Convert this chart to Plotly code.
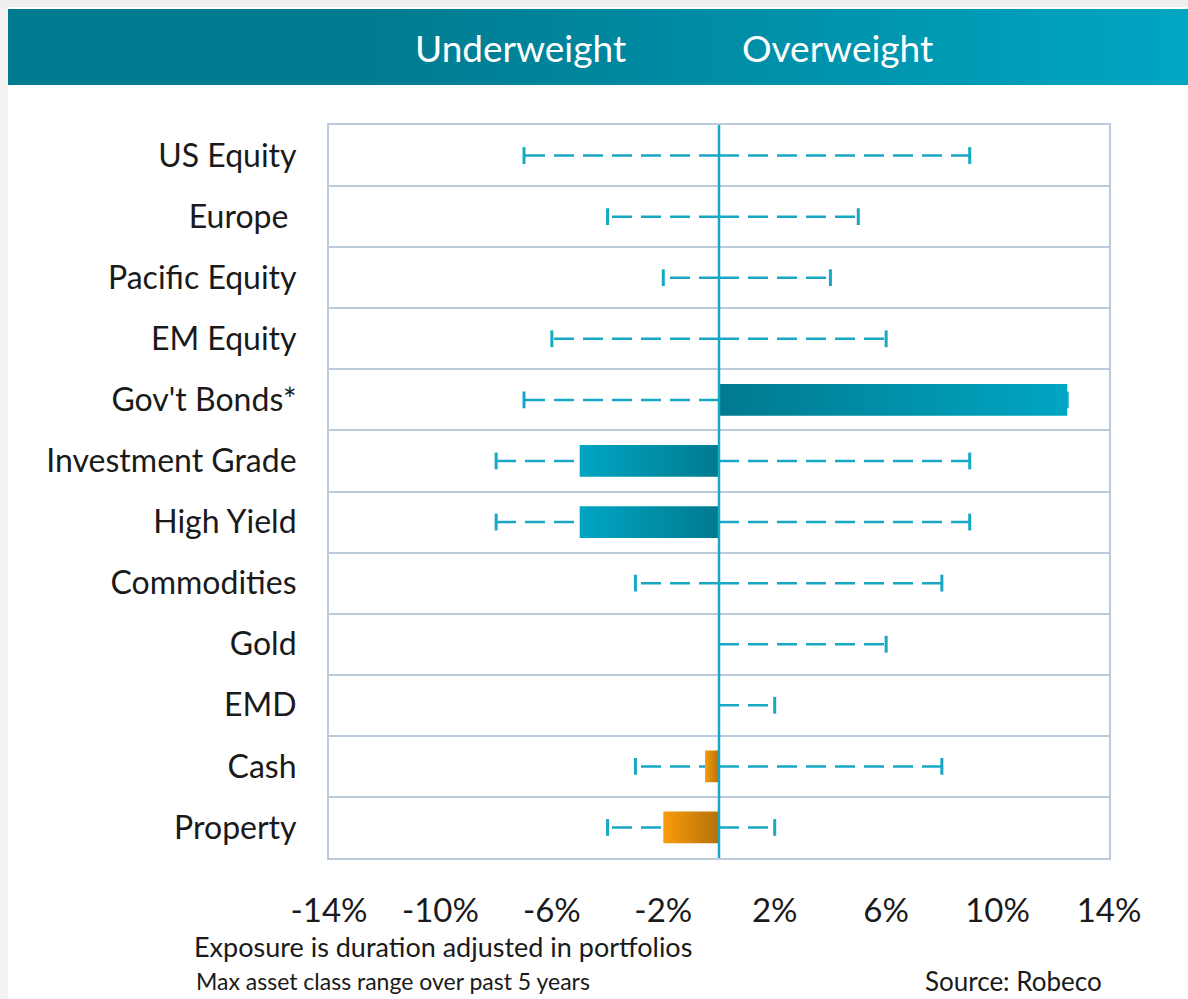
import plotly.graph_objects as go

W, H = 1188, 999

categories = ["US Equity", "Europe\u00a0", "Pacific Equity", "EM Equity", "Gov't Bonds*",
              "Investment Grade", "High Yield", "Commodities", "Gold", "EMD", "Cash", "Property"]
range_min = [-7, -4, -2, -6, -7, -8, -8, -3, 0, 0, -3, -4]
range_max = [9, 5, 4, 6, 12.5, 9, 9, 8, 6, 2, 8, 2]
position = [0, 0, 0, 0, 12.5, -5, -5, 0, 0, 0, -0.5, -2]
bar_group = ["teal"] * 10 + ["orange"] * 2
x_ticks = [-14, -10, -6, -2, 2, 6, 10, 14]
x_tick_labels = ["-14%", "-10%", "-6%", "-2%", "2%", "6%", "10%", "14%"]

TEAL_DARK = "#007a8f"
TEAL_LIGHT = "#00a6c3"
OR_LIGHT = "#f89c0b"
OR_DARK = "#b5710a"
LINE_C = "#17a8c4"
GRID_C = "#bccbdb"
FONT = "Lato"
TXT = "#1a1a1a"

def px_x(p):
    return p / W

def px_y(p):
    return 1 - p / H

fig = go.Figure()

# header band with gradient (own axes)
fig.add_trace(go.Scatter(
    x=[0, 1, 1, 0, 0], y=[0, 0, 1, 1, 0], xaxis="x2", yaxis="y2",
    mode="lines", line=dict(width=0), fill="toself",
    fillgradient=dict(type="horizontal",
                      colorscale=[[0, TEAL_DARK], [0.3, TEAL_DARK], [1, TEAL_LIGHT]]),
    hoverinfo="skip", showlegend=False))

ys = list(range(len(categories)))

# range lines (dashed, from zero outward)
for i, (lo, hi) in enumerate(zip(range_min, range_max)):
    for end in (lo, hi):
        if end != 0:
            fig.add_trace(go.Scatter(
                x=[0, end], y=[i, i], mode="lines",
                line=dict(color=LINE_C, width=2.5, dash="20px,9px"),
                hoverinfo="skip", showlegend=False))
# caps
cap_x, cap_y = [], []
for i, (lo, hi) in enumerate(zip(range_min, range_max)):
    for end in (lo, hi):
        if end != 0:
            cap_x.append(end)
            cap_y.append(i)
fig.add_trace(go.Scatter(
    x=cap_x, y=cap_y, mode="markers",
    marker=dict(symbol="line-ns", size=12, line=dict(color=LINE_C, width=3)),
    hoverinfo="skip", showlegend=False))

# bars as gradient-filled polygons
half = 0.26
for i, (pos, grp) in enumerate(zip(position, bar_group)):
    if pos == 0:
        continue
    x0, x1 = min(0, pos), max(0, pos)
    if grp == "teal":
        c_zero, c_far = TEAL_DARK, TEAL_LIGHT
    else:
        c_zero, c_far = OR_DARK, OR_LIGHT
    if pos > 0:
        cs = [[0, c_zero], [1, c_far]]
    else:
        cs = [[0, c_far], [1, c_zero]]
    fig.add_trace(go.Scatter(
        x=[x0, x1, x1, x0, x0], y=[i - half, i - half, i + half, i + half, i - half],
        mode="lines", line=dict(width=0), fill="toself",
        fillgradient=dict(type="horizontal", colorscale=cs),
        hoverinfo="skip", showlegend=False))

plot_l, plot_r, plot_t, plot_b = 329, 1109, 125, 858

fig.update_layout(
    width=W, height=H, autosize=False,
    margin=dict(l=0, r=0, t=0, b=0, autoexpand=False),
    paper_bgcolor="white", plot_bgcolor="white",
    font=dict(family=FONT, color=TXT),
    xaxis=dict(domain=[px_x(plot_l), px_x(plot_r)], range=[-14, 14], automargin=False,
               tickvals=x_ticks, ticktext=x_tick_labels,
               tickfont=dict(size=33, family=FONT, color=TXT),
               ticks="outside", ticklen=22, tickcolor="rgba(0,0,0,0)",
               showgrid=False, zeroline=False,
               showline=True, mirror=True, linecolor=GRID_C, linewidth=2,
               fixedrange=True),
    yaxis=dict(domain=[px_y(plot_b), px_y(plot_t)], range=[11.5, -0.5], automargin=False,
               tickvals=ys, ticktext=categories,
               tickfont=dict(size=32, family=FONT, color=TXT),
               ticks="outside", ticklen=24, tickcolor="rgba(0,0,0,0)",
               showgrid=False, zeroline=False,
               minor=dict(tickvals=[i + 0.5 for i in ys[:-1]], showgrid=True,
                          gridcolor=GRID_C, gridwidth=1.5, ticks=""),
               showline=True, mirror=True, linecolor=GRID_C, linewidth=2,
               fixedrange=True),
    xaxis2=dict(domain=[px_x(8), 1], range=[0, 1], visible=False, fixedrange=True,
                automargin=False, anchor="y2"),
    yaxis2=dict(domain=[px_y(85), px_y(9)], range=[0, 1], visible=False,
                anchor="x2", fixedrange=True, automargin=False),
    showlegend=False,
)

# zero line on top
fig.add_shape(type="line", xref="x", yref="y domain", x0=0, x1=0, y0=0, y1=1,
              line=dict(color=LINE_C, width=2.5), layer="above")

# faint shadow strips
fig.add_shape(type="rect", xref="paper", yref="paper", x0=0, x1=px_x(8),
              y0=0, y1=1, fillcolor="#f3f3f3", line=dict(width=0), layer="below")
fig.add_shape(type="rect", xref="paper", yref="paper", x0=0, x1=1,
              y0=px_y(7), y1=1, fillcolor="#efefef", line=dict(width=0), layer="below")

# header texts
fig.add_annotation(x=px_x(520), y=px_y(47), xref="paper", yref="paper",
                   text="Underweight", showarrow=False, xanchor="center", yanchor="middle",
                   font=dict(size=37, color="white", family=FONT))
fig.add_annotation(x=px_x(837), y=px_y(47), xref="paper", yref="paper",
                   text="Overweight", showarrow=False, xanchor="center", yanchor="middle",
                   font=dict(size=37, color="white", family=FONT))

# footer texts
fig.add_annotation(x=px_x(192), y=px_y(946), xref="paper", yref="paper",
                   text="Exposure is duration adjusted in portfolios", showarrow=False,
                   xanchor="left", yanchor="middle",
                   font=dict(size=27, color=TXT, family=FONT))
fig.add_annotation(x=px_x(194), y=px_y(981), xref="paper", yref="paper",
                   text="Max asset class range over past 5 years", showarrow=False,
                   xanchor="left", yanchor="middle",
                   font=dict(size=23, color=TXT, family=FONT))
fig.add_annotation(x=px_x(1104), y=px_y(981), xref="paper", yref="paper",
                   text="Source: Robeco", showarrow=False,
                   xanchor="right", yanchor="middle",
                   font=dict(size=26, color=TXT, family=FONT))

fig.write_html("out.html", config={"displayModeBar": False, "responsive": False},
               post_script="document.body.style.margin='0';document.body.style.overflow='hidden';")
